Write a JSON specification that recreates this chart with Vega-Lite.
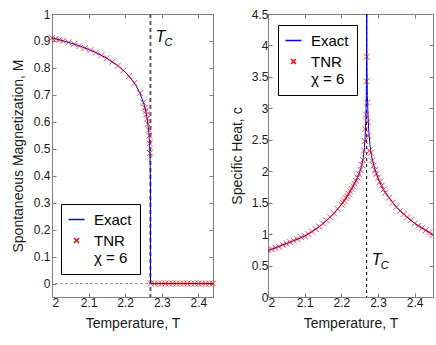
{
  "$schema": "https://vega.github.io/schema/vega-lite/v6.json",
  "padding": {"left": 10, "right": 2, "top": 7, "bottom": 2},
  "spacing": 10,
  "resolve": {"legend": {"color": "independent"}, "scale": {"color": "independent"}},
  "config": {
    "view": {"stroke": "#808080", "strokeWidth": 1},
    "axis": {
      "labelFont": "Liberation Sans", "titleFont": "Liberation Sans", "labelFontSize": 12, "titleFontSize": 14,
      "labelColor": "#1a1a1a", "titleColor": "#1a1a1a", "titleFontWeight": "normal",
      "domainColor": "#808080", "tickColor": "#808080", "grid": false,
      "tickSize": -4, "format": "~g"
    },
    "axisX": {"labelPadding": 4, "titlePadding": 8},
    "axisY": {"labelPadding": 6, "titlePadding": 8},
    "legend": {
      "labelFont": "Liberation Sans", "labelFontSize": 15, "labelColor": "#000"
    }
  },
  "datasets": {
    "mExact": [
      {"T": 2.0, "M": 0.9113, "s": "Exact"}, {"T": 2.03, "M": 0.9007, "s": "Exact"},
      {"T": 2.05, "M": 0.8928, "s": "Exact"}, {"T": 2.08, "M": 0.8792, "s": "Exact"},
      {"T": 2.1, "M": 0.8688, "s": "Exact"}, {"T": 2.12, "M": 0.8569, "s": "Exact"},
      {"T": 2.15, "M": 0.8358, "s": "Exact"}, {"T": 2.18, "M": 0.8084, "s": "Exact"},
      {"T": 2.2, "M": 0.7848, "s": "Exact"}, {"T": 2.22, "M": 0.7535, "s": "Exact"},
      {"T": 2.23, "M": 0.7332, "s": "Exact"}, {"T": 2.24, "M": 0.7073, "s": "Exact"},
      {"T": 2.25, "M": 0.6719, "s": "Exact"}, {"T": 2.255, "M": 0.6473, "s": "Exact"},
      {"T": 2.26, "M": 0.6134, "s": "Exact"}, {"T": 2.265, "M": 0.5563, "s": "Exact"},
      {"T": 2.268, "M": 0.4755, "s": "Exact"}, {"T": 2.269, "M": 0.376, "s": "Exact"},
      {"T": 2.2692, "M": 0, "s": "Exact"}, {"T": 2.44, "M": 0, "s": "Exact"}
    ],
    "mTNR": [
      {"T": 2.0, "M": 0.911, "s": "TNR"}, {"T": 2.01, "M": 0.9078, "s": "TNR"},
      {"T": 2.02, "M": 0.9043, "s": "TNR"}, {"T": 2.03, "M": 0.9007, "s": "TNR"},
      {"T": 2.045, "M": 0.8949, "s": "TNR"}, {"T": 2.06, "M": 0.8883, "s": "TNR"},
      {"T": 2.075, "M": 0.8815, "s": "TNR"}, {"T": 2.09, "M": 0.874, "s": "TNR"},
      {"T": 2.105, "M": 0.8659, "s": "TNR"}, {"T": 2.12, "M": 0.8569, "s": "TNR"},
      {"T": 2.135, "M": 0.8466, "s": "TNR"}, {"T": 2.15, "M": 0.8358, "s": "TNR"},
      {"T": 2.165, "M": 0.8225, "s": "TNR"}, {"T": 2.18, "M": 0.8084, "s": "TNR"},
      {"T": 2.195, "M": 0.7911, "s": "TNR"}, {"T": 2.21, "M": 0.77, "s": "TNR"},
      {"T": 2.225, "M": 0.744, "s": "TNR"}, {"T": 2.24, "M": 0.707, "s": "TNR"},
      {"T": 2.25, "M": 0.672, "s": "TNR"}, {"T": 2.254, "M": 0.652, "s": "TNR"},
      {"T": 2.256, "M": 0.64, "s": "TNR"}, {"T": 2.258, "M": 0.628, "s": "TNR"},
      {"T": 2.26, "M": 0.612, "s": "TNR"}, {"T": 2.262, "M": 0.592, "s": "TNR"},
      {"T": 2.264, "M": 0.57, "s": "TNR"}, {"T": 2.266, "M": 0.548, "s": "TNR"},
      {"T": 2.267, "M": 0.52, "s": "TNR"}, {"T": 2.268, "M": 0.484, "s": "TNR"},
      {"T": 2.27, "M": 0, "s": "TNR"}, {"T": 2.28, "M": 0, "s": "TNR"},
      {"T": 2.29, "M": 0, "s": "TNR"}, {"T": 2.3, "M": 0, "s": "TNR"},
      {"T": 2.31, "M": 0, "s": "TNR"}, {"T": 2.32, "M": 0, "s": "TNR"},
      {"T": 2.33, "M": 0, "s": "TNR"}, {"T": 2.34, "M": 0, "s": "TNR"},
      {"T": 2.35, "M": 0, "s": "TNR"}, {"T": 2.36, "M": 0, "s": "TNR"},
      {"T": 2.37, "M": 0, "s": "TNR"}, {"T": 2.38, "M": 0, "s": "TNR"},
      {"T": 2.39, "M": 0, "s": "TNR"}, {"T": 2.4, "M": 0, "s": "TNR"},
      {"T": 2.41, "M": 0, "s": "TNR"}, {"T": 2.42, "M": 0, "s": "TNR"},
      {"T": 2.43, "M": 0, "s": "TNR"}, {"T": 2.44, "M": 0, "s": "TNR"}
    ],
    "cExact": [
      {"T": 2.0, "c": 0.74, "s": "Exact"}, {"T": 2.02, "c": 0.78, "s": "Exact"},
      {"T": 2.04, "c": 0.83, "s": "Exact"}, {"T": 2.06, "c": 0.87, "s": "Exact"},
      {"T": 2.08, "c": 0.92, "s": "Exact"}, {"T": 2.1, "c": 0.97, "s": "Exact"},
      {"T": 2.12, "c": 1.04, "s": "Exact"}, {"T": 2.14, "c": 1.12, "s": "Exact"},
      {"T": 2.16, "c": 1.22, "s": "Exact"}, {"T": 2.18, "c": 1.33, "s": "Exact"},
      {"T": 2.2, "c": 1.47, "s": "Exact"}, {"T": 2.21, "c": 1.55, "s": "Exact"},
      {"T": 2.22, "c": 1.64, "s": "Exact"}, {"T": 2.23, "c": 1.74, "s": "Exact"},
      {"T": 2.24, "c": 1.85, "s": "Exact"}, {"T": 2.25, "c": 1.99, "s": "Exact"},
      {"T": 2.255, "c": 2.08, "s": "Exact"}, {"T": 2.26, "c": 2.22, "s": "Exact"},
      {"T": 2.263, "c": 2.38, "s": "Exact"}, {"T": 2.265, "c": 2.55, "s": "Exact"},
      {"T": 2.267, "c": 2.85, "s": "Exact"}, {"T": 2.268, "c": 3.2, "s": "Exact"},
      {"T": 2.2685, "c": 3.55, "s": "Exact"}, {"T": 2.269, "c": 4.3, "s": "Exact"},
      {"T": 2.2691, "c": 5.2, "s": "Exact"}, {"T": 2.2693, "c": 5.2, "s": "Exact"},
      {"T": 2.2695, "c": 4.2, "s": "Exact"}, {"T": 2.27, "c": 3.6, "s": "Exact"},
      {"T": 2.271, "c": 3.2, "s": "Exact"}, {"T": 2.273, "c": 2.85, "s": "Exact"},
      {"T": 2.275, "c": 2.62, "s": "Exact"}, {"T": 2.278, "c": 2.42, "s": "Exact"},
      {"T": 2.282, "c": 2.25, "s": "Exact"}, {"T": 2.29, "c": 2.06, "s": "Exact"},
      {"T": 2.3, "c": 1.89, "s": "Exact"}, {"T": 2.31, "c": 1.76, "s": "Exact"},
      {"T": 2.32, "c": 1.66, "s": "Exact"}, {"T": 2.33, "c": 1.58, "s": "Exact"},
      {"T": 2.35, "c": 1.43, "s": "Exact"}, {"T": 2.375, "c": 1.29, "s": "Exact"},
      {"T": 2.4, "c": 1.17, "s": "Exact"}, {"T": 2.425, "c": 1.08, "s": "Exact"},
      {"T": 2.45, "c": 0.99, "s": "Exact"}
    ],
    "cTNR": [
      {"T": 2.0, "c": 0.74, "s": "TNR"}, {"T": 2.01, "c": 0.76, "s": "TNR"},
      {"T": 2.02, "c": 0.78, "s": "TNR"}, {"T": 2.03, "c": 0.8, "s": "TNR"},
      {"T": 2.04, "c": 0.83, "s": "TNR"}, {"T": 2.05, "c": 0.85, "s": "TNR"},
      {"T": 2.06, "c": 0.87, "s": "TNR"}, {"T": 2.07, "c": 0.9, "s": "TNR"},
      {"T": 2.08, "c": 0.92, "s": "TNR"}, {"T": 2.09, "c": 0.95, "s": "TNR"},
      {"T": 2.1, "c": 0.97, "s": "TNR"}, {"T": 2.11, "c": 1.0, "s": "TNR"},
      {"T": 2.12, "c": 1.04, "s": "TNR"}, {"T": 2.13, "c": 1.08, "s": "TNR"},
      {"T": 2.14, "c": 1.12, "s": "TNR"}, {"T": 2.15, "c": 1.17, "s": "TNR"},
      {"T": 2.16, "c": 1.22, "s": "TNR"}, {"T": 2.17, "c": 1.27, "s": "TNR"},
      {"T": 2.18, "c": 1.33, "s": "TNR"}, {"T": 2.19, "c": 1.4, "s": "TNR"},
      {"T": 2.2, "c": 1.47, "s": "TNR"}, {"T": 2.204, "c": 1.5, "s": "TNR"},
      {"T": 2.208, "c": 1.53, "s": "TNR"}, {"T": 2.212, "c": 1.57, "s": "TNR"},
      {"T": 2.216, "c": 1.6, "s": "TNR"}, {"T": 2.22, "c": 1.64, "s": "TNR"},
      {"T": 2.224, "c": 1.68, "s": "TNR"}, {"T": 2.228, "c": 1.72, "s": "TNR"},
      {"T": 2.232, "c": 1.76, "s": "TNR"}, {"T": 2.236, "c": 1.8, "s": "TNR"},
      {"T": 2.24, "c": 1.85, "s": "TNR"}, {"T": 2.244, "c": 1.9, "s": "TNR"},
      {"T": 2.248, "c": 1.96, "s": "TNR"}, {"T": 2.252, "c": 2.02, "s": "TNR"},
      {"T": 2.256, "c": 2.1, "s": "TNR"}, {"T": 2.259, "c": 2.18, "s": "TNR"},
      {"T": 2.262, "c": 2.33, "s": "TNR"}, {"T": 2.264, "c": 2.48, "s": "TNR"},
      {"T": 2.2655, "c": 2.67, "s": "TNR"}, {"T": 2.2675, "c": 2.9, "s": "TNR"},
      {"T": 2.2688, "c": 3.43, "s": "TNR"}, {"T": 2.269, "c": 3.82, "s": "TNR"},
      {"T": 2.2705, "c": 3.09, "s": "TNR"}, {"T": 2.272, "c": 2.78, "s": "TNR"},
      {"T": 2.2735, "c": 2.56, "s": "TNR"}, {"T": 2.2765, "c": 2.33, "s": "TNR"},
      {"T": 2.28, "c": 2.29, "s": "TNR"}, {"T": 2.284, "c": 2.17, "s": "TNR"},
      {"T": 2.288, "c": 2.09, "s": "TNR"}, {"T": 2.292, "c": 2.02, "s": "TNR"},
      {"T": 2.296, "c": 1.96, "s": "TNR"}, {"T": 2.3, "c": 1.9, "s": "TNR"},
      {"T": 2.305, "c": 1.83, "s": "TNR"}, {"T": 2.31, "c": 1.77, "s": "TNR"},
      {"T": 2.315, "c": 1.71, "s": "TNR"}, {"T": 2.32, "c": 1.66, "s": "TNR"},
      {"T": 2.33, "c": 1.58, "s": "TNR"}, {"T": 2.34, "c": 1.5, "s": "TNR"},
      {"T": 2.35, "c": 1.43, "s": "TNR"}, {"T": 2.36, "c": 1.37, "s": "TNR"},
      {"T": 2.37, "c": 1.32, "s": "TNR"}, {"T": 2.38, "c": 1.27, "s": "TNR"},
      {"T": 2.39, "c": 1.22, "s": "TNR"}, {"T": 2.4, "c": 1.17, "s": "TNR"},
      {"T": 2.41, "c": 1.13, "s": "TNR"}, {"T": 2.42, "c": 1.1, "s": "TNR"},
      {"T": 2.43, "c": 1.06, "s": "TNR"}, {"T": 2.44, "c": 1.03, "s": "TNR"},
      {"T": 2.45, "c": 0.99, "s": "TNR"}
    ]
  },
  "hconcat": [
    {
      "width": 161, "height": 283,
      "layer": [
        {
          "data": {"values": [{"M": 0}]},
          "mark": {"type": "rule", "color": "#9a9a9a", "strokeWidth": 1, "strokeDash": [3, 2]},
          "encoding": {
            "y": {"field": "M", "type": "quantitative", "scale": {"domain": [-0.05, 1], "nice": false, "zero": false}, "axis": null}
          }
        },
        {
          "data": {"values": [{"T": 2.269}]},
          "mark": {"type": "rule", "color": "#606060", "strokeWidth": 2, "strokeDash": [4, 3]},
          "encoding": {
            "x": {"field": "T", "type": "quantitative", "scale": {"domain": [2, 2.44], "nice": false, "zero": false}, "axis": null}
          }
        },
        {
          "data": {"name": "mExact"},
          "mark": {"type": "line", "strokeWidth": 1, "clip": true},
          "encoding": {
            "x": {"field": "T", "type": "quantitative", "scale": {"domain": [2, 2.44], "nice": false, "zero": false},
                  "axis": {"title": "Temperature, T", "values": [2, 2.1, 2.2, 2.3, 2.4]}},
            "y": {"field": "M", "type": "quantitative", "scale": {"domain": [-0.05, 1], "nice": false, "zero": false},
                  "axis": {"title": "Spontaneous Magnetization, M", "values": [0, 0.1, 0.2, 0.3, 0.4, 0.5, 0.6, 0.7, 0.8, 0.9, 1]}},
            "color": {
              "field": "s", "type": "nominal",
              "scale": {"domain": ["Exact", "TNR"], "range": ["#0000ff", "#ff0000"]},
              "legend": {
                "orient": "none", "legendX": 9, "legendY": 190, "title": null,
                "fillColor": "white", "strokeColor": "black", "padding": 8, "rowPadding": 5, "labelOffset": 10,
                "labelExpr": "datum.label == 'TNR' ? ['TNR', 'χ = 6'] : datum.label",
                "encode": {
                  "symbols": {"update": {
                    "shape": {"signal": "datum.value == 'Exact' ? 'stroke' : 'M-1,-1L1,1M-1,1L1,-1'"},
                    "size": {"signal": "datum.value == 'Exact' ? 256 : 25"},
                    "fill": {"value": "transparent"},
                    "stroke": {"signal": "datum.value == 'Exact' ? '#0000ff' : '#ff0000'"},
                    "strokeWidth": {"value": 1.5}
                  }}
                }
              }
            }
          }
        },
        {
          "data": {"name": "mTNR"},
          "mark": {"type": "point", "shape": "M-1,-1L1,1M-1,1L1,-1", "size": 36, "strokeWidth": 1, "filled": false, "opacity": 0.7},
          "encoding": {
            "x": {"field": "T", "type": "quantitative", "scale": {"domain": [2, 2.44], "nice": false, "zero": false},
                  "axis": {"orient": "top", "labels": false, "title": null, "domain": false, "values": [2, 2.1, 2.2, 2.3, 2.4]}},
            "y": {"field": "M", "type": "quantitative", "scale": {"domain": [-0.05, 1], "nice": false, "zero": false},
                  "axis": {"orient": "right", "labels": false, "title": null, "domain": false, "values": [0, 0.1, 0.2, 0.3, 0.4, 0.5, 0.6, 0.7, 0.8, 0.9, 1]}},
            "color": {"field": "s", "type": "nominal", "scale": {"domain": ["Exact", "TNR"], "range": ["#0000ff", "#ff0000"]}}
          }
        },
        {
          "data": {"values": [{"T": 2.269, "M": 0.913, "t": "T"}]},
          "mark": {"type": "text", "align": "left", "baseline": "middle", "dx": 5, "font": "Liberation Sans", "fontStyle": "italic", "fontSize": 16, "color": "#000"},
          "encoding": {
            "x": {"field": "T", "type": "quantitative", "scale": {"domain": [2, 2.44], "nice": false, "zero": false}, "axis": null},
            "y": {"field": "M", "type": "quantitative", "scale": {"domain": [-0.05, 1], "nice": false, "zero": false}, "axis": null},
            "text": {"field": "t"}
          }
        },
        {
          "data": {"values": [{"T": 2.269, "M": 0.913, "t": "C"}]},
          "mark": {"type": "text", "align": "left", "baseline": "middle", "dx": 14, "dy": 6, "font": "Liberation Sans", "fontStyle": "italic", "fontSize": 11, "color": "#000"},
          "encoding": {
            "x": {"field": "T", "type": "quantitative", "scale": {"domain": [2, 2.44], "nice": false, "zero": false}, "axis": null},
            "y": {"field": "M", "type": "quantitative", "scale": {"domain": [-0.05, 1], "nice": false, "zero": false}, "axis": null},
            "text": {"field": "t"}
          }
        }
      ],
      "resolve": {"axis": {"x": "independent", "y": "independent"}}
    },
    {
      "width": 165, "height": 283,
      "layer": [
        {
          "data": {"values": [{"T": 2.269}]},
          "mark": {"type": "rule", "color": "#000", "strokeWidth": 1, "strokeDash": [3, 3]},
          "encoding": {
            "x": {"field": "T", "type": "quantitative", "scale": {"domain": [2, 2.45], "nice": false, "zero": false}, "axis": null}
          }
        },
        {
          "data": {"name": "cExact"},
          "mark": {"type": "line", "strokeWidth": 1, "clip": true},
          "encoding": {
            "x": {"field": "T", "type": "quantitative", "scale": {"domain": [2, 2.45], "nice": false, "zero": false},
                  "axis": {"title": "Temperature, T", "values": [2, 2.1, 2.2, 2.3, 2.4]}},
            "y": {"field": "c", "type": "quantitative", "scale": {"domain": [0, 4.5], "nice": false},
                  "axis": {"title": "Specific Heat, c", "values": [0, 0.5, 1, 1.5, 2, 2.5, 3, 3.5, 4, 4.5], "labelPadding": 4, "titlePadding": 7}},
            "color": {
              "field": "s", "type": "nominal",
              "scale": {"domain": ["Exact", "TNR"], "range": ["#0000ff", "#ff0000"]},
              "legend": {
                "orient": "none", "legendX": 10, "legendY": 11, "title": null,
                "fillColor": "white", "strokeColor": "black", "padding": 8, "rowPadding": 5, "labelOffset": 10,
                "labelExpr": "datum.label == 'TNR' ? ['TNR', 'χ = 6'] : datum.label",
                "encode": {
                  "symbols": {"update": {
                    "shape": {"signal": "datum.value == 'Exact' ? 'stroke' : 'M-1,-1L1,1M-1,1L1,-1'"},
                    "size": {"signal": "datum.value == 'Exact' ? 256 : 25"},
                    "fill": {"value": "transparent"},
                    "stroke": {"signal": "datum.value == 'Exact' ? '#0000ff' : '#ff0000'"},
                    "strokeWidth": {"value": 1.5}
                  }}
                }
              }
            }
          }
        },
        {
          "data": {"name": "cTNR"},
          "mark": {"type": "point", "shape": "M-1,-1L1,1M-1,1L1,-1", "size": 36, "strokeWidth": 1, "filled": false, "opacity": 0.7, "clip": true},
          "encoding": {
            "x": {"field": "T", "type": "quantitative", "scale": {"domain": [2, 2.45], "nice": false, "zero": false},
                  "axis": {"orient": "top", "labels": false, "title": null, "domain": false, "values": [2, 2.1, 2.2, 2.3, 2.4]}},
            "y": {"field": "c", "type": "quantitative", "scale": {"domain": [0, 4.5], "nice": false},
                  "axis": {"orient": "right", "labels": false, "title": null, "domain": false, "values": [0, 0.5, 1, 1.5, 2, 2.5, 3, 3.5, 4, 4.5]}},
            "color": {"field": "s", "type": "nominal", "scale": {"domain": ["Exact", "TNR"], "range": ["#0000ff", "#ff0000"]}}
          }
        },
        {
          "data": {"values": [{"T": 2.269, "c": 0.585, "t": "T"}]},
          "mark": {"type": "text", "align": "left", "baseline": "middle", "dx": 5, "font": "Liberation Sans", "fontStyle": "italic", "fontSize": 16, "color": "#000"},
          "encoding": {
            "x": {"field": "T", "type": "quantitative", "scale": {"domain": [2, 2.45], "nice": false, "zero": false}, "axis": null},
            "y": {"field": "c", "type": "quantitative", "scale": {"domain": [0, 4.5], "nice": false}, "axis": null},
            "text": {"field": "t"}
          }
        },
        {
          "data": {"values": [{"T": 2.269, "c": 0.585, "t": "C"}]},
          "mark": {"type": "text", "align": "left", "baseline": "middle", "dx": 14, "dy": 6, "font": "Liberation Sans", "fontStyle": "italic", "fontSize": 11, "color": "#000"},
          "encoding": {
            "x": {"field": "T", "type": "quantitative", "scale": {"domain": [2, 2.45], "nice": false, "zero": false}, "axis": null},
            "y": {"field": "c", "type": "quantitative", "scale": {"domain": [0, 4.5], "nice": false}, "axis": null},
            "text": {"field": "t"}
          }
        }
      ],
      "resolve": {"axis": {"x": "independent", "y": "independent"}}
    }
  ]
}
